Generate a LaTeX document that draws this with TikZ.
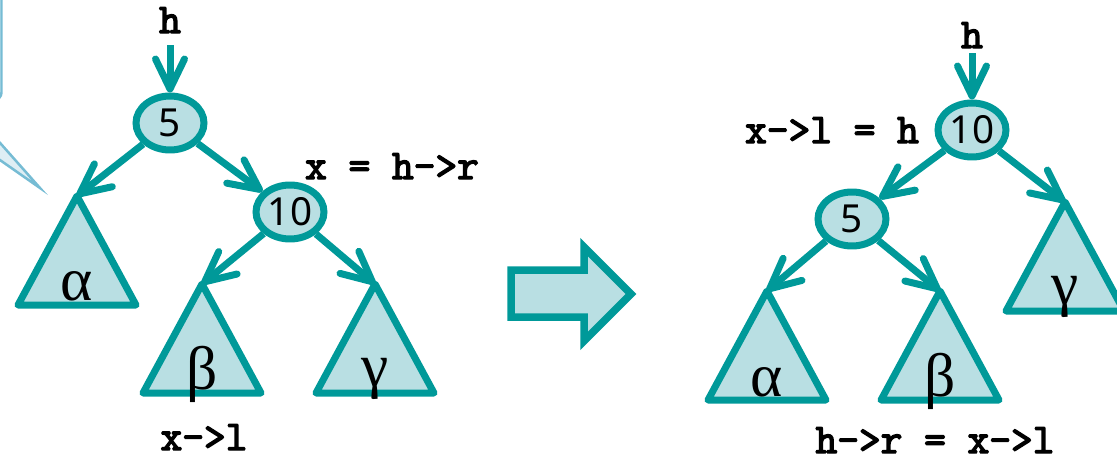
\documentclass[tikz,border=0pt]{standalone}
\usepackage{fontspec}
\setmainfont{Noto Sans}
\newfontfamily\greekfont{Liberation Serif}
\newfontfamily\codefont[FakeBold=3.5]{Latin Modern Mono}
\usetikzlibrary{shapes.geometric,arrows.meta}
\definecolor{treeteal}{RGB}{0, 153, 153}
\definecolor{treefill}{RGB}{185, 223, 227}
\definecolor{bubbleline}{RGB}{118, 188, 212}
\definecolor{bubblefill}{RGB}{222, 238, 244}

\tikzset{
  keynode/.style={ellipse, draw=treeteal, fill=treefill, line width=0.14cm,
    minimum width=1.36cm, minimum height=1.08cm, inner sep=0pt,
    font=\fontsize{22}{26}\selectfont},
  link/.style={draw=treeteal, line width=0.14cm,
    -{Straight Barb[length=0.6cm, width=0.58cm, round]}},
  subtree/.style={draw=treeteal, fill=treefill, line width=0.14cm, line join=round},
  codelabel/.style={font=\codefont\fontsize{24}{28}\selectfont,
    inner sep=0pt, anchor=base},
  greeklabel/.style={font=\greekfont\fontsize{35}{40}\selectfont,
    inner sep=0pt, anchor=base},
  bubble/.style={draw=bubbleline, fill=bubblefill, line width=0.05cm},
  bigarrow/.style={draw=treeteal, fill=treefill, line width=0.15cm, line join=miter}
}

\begin{document}
\begin{tikzpicture}[x=0.02cm, y=-0.02cm]
\useasboundingbox (0,0) rectangle (1117,460);
\clip (0,0) rectangle (1117,460);

% Callout, cut off at the left edge
\filldraw[bubble, rounded corners=0.15cm] (-300,-40) rectangle (1.5,100);
\filldraw[bubble] (-86,100) -- (40,188) -- (-38,100);

% Left tree
\node[codelabel] (hl) at (170,33) {h};
\node[keynode] (l5) at (170,123) {5};
\node[keynode] (l10) at (290,212) {10};
\coordinate (la) at (77,196);
\coordinate (lb) at (202,284);
\coordinate (lc) at (375,284);
\draw[subtree] (la) -- ++(-59,109) -- ++(118,0) -- cycle;
\draw[subtree] (lb) -- ++(-59,109) -- ++(118,0) -- cycle;
\draw[subtree] (lc) -- ++(-59,109) -- ++(118,0) -- cycle;
\node[greeklabel] (lalpha) at (77,300) {α};
\node[greeklabel] (lbeta) at (202,389) {β};
\node[greeklabel] (lgamma) at (375,386) {γ};

\draw[link, shorten <=0.24cm] (hl) -- (l5);
\draw[link] (l5) -- (la);
\draw[link] (l5) -- (l10);
\draw[link] (l10) -- (lb);
\draw[link] (l10) -- (lc);

\node[codelabel] (xr) at (392,179) {x = h->r};
\node[codelabel] (xl) at (204,450) {x->l};

% Rotation arrow
\filldraw[bigarrow] (511,270) -- (584,270) -- (584,247) -- (631,294)
  -- (584,341) -- (584,317) -- (511,317) -- cycle;

% Right tree
\node[codelabel] (hr) at (972,48) {h};
\node[keynode] (r10) at (972,130) {10};
\node[keynode] (r5) at (852,219) {5};
\coordinate (ra) at (767,291);
\coordinate (rb) at (940,291);
\coordinate (rc) at (1065,202);
\draw[subtree] (ra) -- ++(-59,109) -- ++(118,0) -- cycle;
\draw[subtree] (rb) -- ++(-59,109) -- ++(118,0) -- cycle;
\draw[subtree] (rc) -- ++(-59,109) -- ++(118,0) -- cycle;
\node[greeklabel] (ralpha) at (767,396) {α};
\node[greeklabel] (rbeta) at (940,396) {β};
\node[greeklabel] (rgamma) at (1065,304) {γ};

\draw[link, shorten <=0.1cm] (hr) -- (r10);
\draw[link] (r10) -- (r5);
\draw[link] (r10) -- (rc);
\draw[link] (r5) -- (ra);
\draw[link] (r5) -- (rb);

\node[codelabel] (xlh) at (832,143) {x->l = h};
\node[codelabel] (hrxl) at (935,453) {h->r = x->l};
\end{tikzpicture}
\end{document}
